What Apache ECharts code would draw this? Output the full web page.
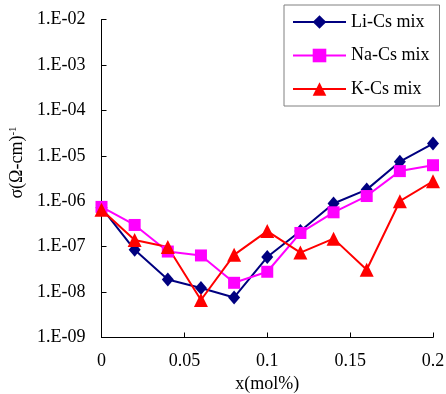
<!DOCTYPE html>
<html>
<head>
<meta charset="utf-8">
<script src="https://cdn.jsdelivr.net/npm/echarts@6/dist/echarts.min.js"></script>
<style>
  html, body { margin: 0; padding: 0; background: #fff; }
  #chart { width: 446px; height: 394px; }
</style>
</head>
<body>
<div id="chart"></div>
<script>
const xValues = [0, 0.02, 0.04, 0.06, 0.08, 0.1, 0.12, 0.14, 0.16, 0.18, 0.2]
const liCs = [7.2e-7, 8.5e-8, 1.9e-8, 1.23e-8, 7.6e-9, 5.9e-8, 2.2e-7, 8.9e-7, 1.8e-6, 7.4e-6, 1.86e-5]
const naCs = [7.5e-7, 3.0e-7, 7.8e-8, 6.4e-8, 1.6e-8, 2.8e-8, 2.0e-7, 5.7e-7, 1.3e-6, 4.6e-6, 6.2e-6]
const kCs = [6.5e-7, 1.4e-7, 9.8e-8, 6.7e-9, 6.6e-8, 2.2e-7, 7.4e-8, 1.5e-7, 3.1e-8, 1.0e-6, 2.75e-6]
const seriesNames = ['Li-Cs mix', 'Na-Cs mix', 'K-Cs mix']

const font = '"Liberation Serif", "Times New Roman", serif'
const fs = 18
const pair = (ys) => xValues.map((x, i) => [x, ys[i]])

const chart = echarts.init(document.getElementById('chart'))

const makeSeries = (name, ys, color, symbol, size) => ({
  name,
  type: 'line',
  data: pair(ys),
  symbol,
  symbolSize: size,
  showSymbol: true,
  lineStyle: { color, width: 2 },
  itemStyle: { color, borderWidth: 0 },
  emphasis: { disabled: true },
  animation: false
})

chart.setOption({
  animation: false,
  textStyle: { fontFamily: font },
  grid: { left: 101.5, right: 13, top: 19.5, bottom: 56.5, containLabel: false, outerBoundsMode: 'none' },
  legend: {
    orient: 'vertical',
    left: 284,
    top: 5,
    padding: [8, 10, 8, 8],
    itemGap: 15.5,
    itemWidth: 53,
    itemHeight: 17,
    borderColor: '#808080',
    borderWidth: 1,
    backgroundColor: '#fff',
    textStyle: { fontFamily: font, fontSize: fs, color: '#000' },
    data: seriesNames
  },
  xAxis: {
    type: 'value',
    min: 0,
    max: 0.2,
    interval: 0.05,
    name: 'x(mol%)',
    nameLocation: 'middle',
    nameGap: 37,
    nameTextStyle: { fontFamily: font, fontSize: fs, color: '#000' },
    axisLine: { show: true, onZero: false, lineStyle: { color: '#000', width: 1 } },
    axisTick: { show: true, inside: true, length: 5, lineStyle: { color: '#000' } },
    axisLabel: { fontFamily: font, fontSize: fs, color: '#000', margin: 15 },
    splitLine: { show: false }
  },
  yAxis: {
    type: 'log',
    logBase: 10,
    min: 1e-9,
    max: 1e-2,
    name: '{n|σ(Ω-cm)}{s|-1}',
    nameLocation: 'middle',
    nameGap: 74,
    nameTextStyle: {
      fontFamily: font,
      fontSize: fs,
      color: '#000',
      padding: [0, 0, 0, 32],
      rich: {
        n: { fontFamily: font, fontSize: fs, color: '#000' },
        s: { fontFamily: font, fontSize: 11, color: '#000', verticalAlign: 'top', padding: [0, 0, 8, 0] }
      }
    },
    axisLine: { show: true, lineStyle: { color: '#000', width: 1 } },
    axisTick: { show: true, inside: true, length: 5, lineStyle: { color: '#000' } },
    axisLabel: {
      fontFamily: font,
      fontSize: fs,
      color: '#000',
      margin: 16,
      formatter: (v) => {
        const e = Math.round(Math.log10(v))
        const abs = Math.abs(e)
        return '1.E' + (e < 0 ? '-' : '+') + (abs < 10 ? '0' : '') + abs
      }
    },
    splitLine: { show: false }
  },
  series: [
    makeSeries(seriesNames[0], liCs, '#000080', 'diamond', [12, 14]),
    makeSeries(seriesNames[1], naCs, '#FF00FF', 'rect', 12),
    makeSeries(seriesNames[2], kCs, '#FF0000', 'triangle', 14)
  ]
})
</script>
</body>
</html>
